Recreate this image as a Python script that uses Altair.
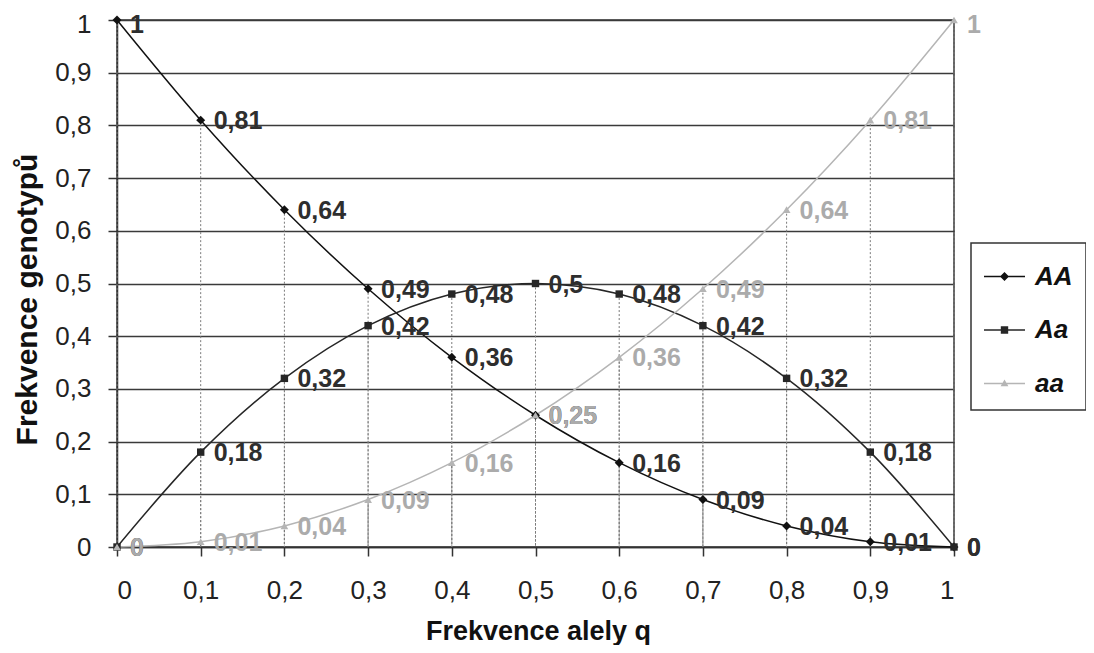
import altair as alt
import pandas as pd

# ---- data ----
q = [0, 0.1, 0.2, 0.3, 0.4, 0.5, 0.6, 0.7, 0.8, 0.9, 1]
AA = [1, 0.81, 0.64, 0.49, 0.36, 0.25, 0.16, 0.09, 0.04, 0.01, 0]
Aa = [0, 0.18, 0.32, 0.42, 0.48, 0.5, 0.48, 0.42, 0.32, 0.18, 0]
aa = [0, 0.01, 0.04, 0.09, 0.16, 0.25, 0.36, 0.49, 0.64, 0.81, 1]
ticks = [0, 0.1, 0.2, 0.3, 0.4, 0.5, 0.6, 0.7, 0.8, 0.9, 1]

series = ["AA", "Aa", "aa"]
line_colors = ["#111111", "#262626", "#b5b5b5"]
text_colors = ["#2e2e2e", "#2e2e2e", "#ababab"]
shapes = ["diamond", "square", "triangle-up"]
marker_sizes = [80, 55, 60]
legend_paths = [
    "M-1,-0.037H1V0.037H-1Z M0,-0.22L0.22,0L0,0.22L-0.22,0Z",
    "M-1,-0.037H1V0.037H-1Z M-0.18,-0.18H0.18V0.18H-0.18Z",
    "M-1,-0.037H1V0.037H-1Z M0,-0.2L0.19,0.14H-0.19Z",
]

rows = []
for name, vals, lc, tc, sh, sz in zip(series, [AA, Aa, aa], line_colors,
                                      text_colors, shapes, marker_sizes):
    for x, v in zip(q, vals):
        rows.append({"q": x, "f": v, "g": name, "lab": str(v).replace(".", ","),
                     "lc": lc, "tc": tc, "shp": sh, "sz": sz})
df = pd.DataFrame(rows)

FONT = "Liberation Sans"

x_enc = alt.X(
    "q:Q",
    scale=alt.Scale(domain=[0, 1], nice=False),
    axis=alt.Axis(
        values=ticks, format="~g", labelExpr="replace(datum.label, '.', ',')",
        grid=False, tickSize=9, tickColor="#333", tickWidth=1.5,
        domainColor="#333", domainWidth=1.5,
        labelPadding=21, labelFontSize=26, labelFont=FONT, labelColor="#222",
        title="Frekvence alely q", titleFont=FONT, titleFontSize=27,
        titleFontWeight="bold", titleColor="#111",
        titleBaseline="middle", titleX=421, titleY=84,
    ),
)
y_enc = alt.Y(
    "f:Q",
    scale=alt.Scale(domain=[0, 1], nice=False),
    axis=alt.Axis(
        values=ticks, format="~g", labelExpr="replace(datum.label, '.', ',')",
        labelOffset={"expr": "datum.value == 1 ? 4 : 0"},
        grid=True, gridColor="#3a3a3a", gridWidth=1.5,
        tickSize=9, tickColor="#333", tickWidth=1.5,
        domainColor="#333", domainWidth=1.5,
        labelPadding=17, labelFontSize=26, labelFont=FONT, labelColor="#222",
        title="Frekvence genotypů", titleFont=FONT, titleFontSize=30,
        titleFontWeight="bold", titleColor="#111",
        titleBaseline="middle", titleAngle=270, titleX=-90, titleY=279,
    ),
)

base = alt.Chart(df)

drops = base.mark_rule(color="#7a7a7a", strokeWidth=1, strokeDash=[2, 2]).encode(
    x=x_enc, y=y_enc, y2=alt.datum(0)
)

lines = base.mark_line(interpolate="catmull-rom", strokeWidth=1.5).encode(
    x="q:Q", y="f:Q",
    color=alt.Color("lc:N", scale=None),
    detail="g:N",
)

points = base.mark_point(filled=True, opacity=1).encode(
    x="q:Q", y="f:Q",
    color=alt.Color("lc:N", scale=None),
    shape=alt.Shape("shp:N", scale=None),
    size=alt.Size("sz:Q", scale=None),
)

text_style = dict(align="left", baseline="middle", dx=13,
                  font=FONT, fontWeight="bold", fontSize=25)
text_enc = dict(x="q:Q", y="f:Q", text="lab:N",
                color=alt.Color("tc:N", scale=None))

labels = base.transform_filter("datum.f < 1").mark_text(dy=1, **text_style).encode(**text_enc)
labels_top = base.transform_filter("datum.f >= 1").mark_text(dy=5, **text_style).encode(**text_enc)

legend_layer = base.mark_point(filled=True, opacity=0, size=1681).encode(
    x="q:Q", y="f:Q",
    color=alt.Color(
        "g:N",
        scale=alt.Scale(domain=series, range=line_colors),
        legend=alt.Legend(
            title=None, orient="none", legendX=854, legendY=223,
            padding=13, strokeColor="#333", fillColor="white",
            labelFont=FONT, labelFontSize=26, labelFontStyle="italic",
            labelFontWeight="bold", labelColor="#111", labelOffset=10,
            rowPadding=19.5, symbolSize=1681, symbolStrokeWidth=0,
            symbolOpacity=1,
        ),
    ),
    shape=alt.Shape("g:N", scale=alt.Scale(domain=series, range=legend_paths)),
)

chart = (
    alt.layer(drops, lines, points, labels, labels_top, legend_layer)
    .properties(
        width=837, height=527,
        autosize=alt.AutoSizeParams(type="none"),
        padding={"left": 109, "top": 12, "right": 132, "bottom": 98},
        background="white",
    )
    .configure_view(stroke="#333", strokeWidth=1.5)
    .configure_legend(strokeWidth=1.5)
)

chart.save("out.html", embed_options={"renderer": "svg", "actions": False})
